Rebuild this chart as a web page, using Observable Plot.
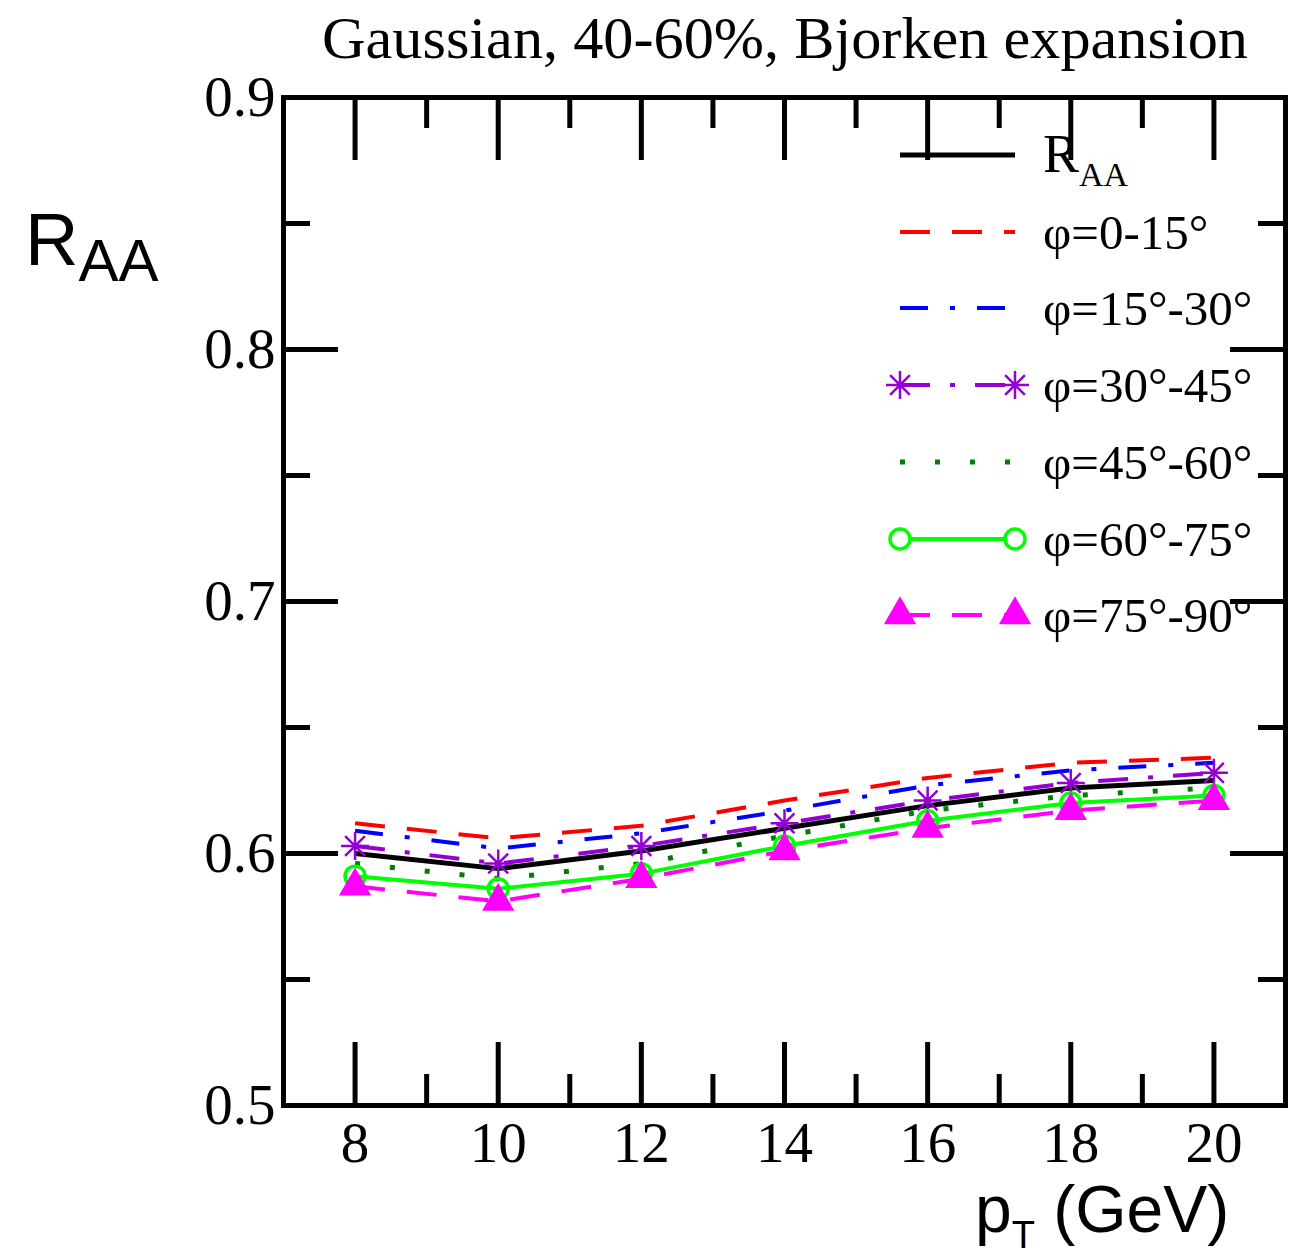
<!DOCTYPE html>
<html><head><meta charset="utf-8">
<script src="https://cdn.jsdelivr.net/npm/d3@7"></script>
<script src="https://cdn.jsdelivr.net/npm/@observablehq/plot@0.6"></script>
<style>
html,body{margin:0;padding:0;background:#fff;}
#wrap{position:relative;width:1296px;height:1257px;overflow:hidden;}
#wrap svg{position:absolute;left:0;top:0;}
</style></head><body><div id="wrap"></div>
<script>
// ---- data ----
const pT = [8, 10, 12, 14, 16, 18, 20];
const raa     = [0.600, 0.594, 0.601, 0.610, 0.619, 0.626, 0.629];
const phi0_15  = [0.612, 0.606, 0.611, 0.621, 0.630, 0.636, 0.638];
const phi15_30 = [0.609, 0.602, 0.608, 0.617, 0.627, 0.633, 0.636];
const phi30_45 = [0.603, 0.596, 0.603, 0.612, 0.621, 0.628, 0.632];
const phi45_60 = [0.596, 0.590, 0.596, 0.607, 0.617, 0.623, 0.626];
const phi60_75 = [0.591, 0.586, 0.592, 0.603, 0.613, 0.620, 0.623];
const phi75_90 = [0.587, 0.581, 0.590, 0.601, 0.610, 0.617, 0.621];
const seriesLabels = ["RAA", "φ=0-15°", "φ=15°-30°", "φ=30°-45°", "φ=45°-60°", "φ=60°-75°", "φ=75°-90°"];
const xMajor = [8, 10, 12, 14, 16, 18, 20];
const xMinor = [9, 11, 13, 15, 17, 19];
const yMajor = [0.5, 0.6, 0.7, 0.8, 0.9];
const yMinor = [0.55, 0.65, 0.75, 0.85];
const titleText = "Gaussian, 40-60%, Bjorken expansion";

// ---- styles ----
const star8 = {draw(ctx, size) { const r = Math.sqrt(size / Math.PI);
  for (let i = 0; i < 4; i++) { const a = i * Math.PI / 4, dx = r * Math.cos(a), dy = r * Math.sin(a);
    ctx.moveTo(-dx, -dy); ctx.lineTo(dx, dy); } }};
const styles = [
  {stroke: "#000000", width: 5, dash: null, marker: null},
  {stroke: "#ff0000", width: 4, dash: "30,22", marker: null},
  {stroke: "#0000ff", width: 4, dash: "28,22,5,22", marker: null},
  {stroke: "#9400d3", width: 4, dash: "30,20,5,20", marker: "star"},
  {stroke: "#008000", width: 5, dash: "5,30", marker: null},
  {stroke: "#00ff00", width: 4, dash: null, marker: "circle"},
  {stroke: "#ff00ff", width: 4, dash: "30,22", marker: "triangle"}
];
const allSeries = [raa, phi0_15, phi15_30, phi30_45, phi45_60, phi60_75, phi75_90];
const table = allSeries.map((vals, i) => pT.map((x, j) => ({pT: x, v: vals[j], s: seriesLabels[i]})));

const W = 1296, H = 1257, mL = 283, mR = 11, mT = 97, mB = 152;
const iw = W - mL - mR, ih = H - mT - mB;
const serif = "'Liberation Serif','Times New Roman',serif";
const sans = "'Liberation Sans',Arial,sans-serif";

const marks = [];
allSeries.forEach((vals, i) => {
  const st = styles[i];
  marks.push(Plot.line(table[i], {x: "pT", y: "v", stroke: st.stroke, strokeWidth: st.width,
    strokeDasharray: st.dash || undefined, strokeLinecap: "butt", strokeLinejoin: "miter"}));
});
allSeries.forEach((vals, i) => {
  const st = styles[i];
  if (st.marker === "star") marks.push(Plot.dot(table[i], {x: "pT", y: "v", symbol: star8, r: 14, stroke: st.stroke, fill: "none", strokeWidth: 2.5}));
  if (st.marker === "circle") marks.push(Plot.dot(table[i], {x: "pT", y: "v", symbol: "circle", r: 10, stroke: st.stroke, fill: "none", strokeWidth: 3.5}));
  if (st.marker === "triangle") marks.push(Plot.dot(table[i], {x: "pT", y: "v", symbol: "triangle", r: 12, fill: st.stroke, stroke: "none"}));
});

const chart = Plot.plot({
  width: W, height: H, marginLeft: mL, marginRight: mR, marginTop: mT, marginBottom: mB,
  style: {fontFamily: serif, background: "white", color: "black"},
  x: {domain: [7, 21]},
  y: {domain: [0.5, 0.9]},
  marks: [
    ...marks,
    Plot.ruleX(xMajor, {insetTop: ih - 63, stroke: "black", strokeWidth: 5}),
    Plot.ruleX(xMinor, {insetTop: ih - 31, stroke: "black", strokeWidth: 5}),
    Plot.ruleX(xMajor, {insetBottom: ih - 63, stroke: "black", strokeWidth: 5}),
    Plot.ruleX(xMinor, {insetBottom: ih - 31, stroke: "black", strokeWidth: 5}),
    Plot.ruleY(yMajor, {insetRight: iw - 55, stroke: "black", strokeWidth: 5}),
    Plot.ruleY(yMinor, {insetRight: iw - 27, stroke: "black", strokeWidth: 5}),
    Plot.ruleY(yMajor, {insetLeft: iw - 55, stroke: "black", strokeWidth: 5}),
    Plot.ruleY(yMinor, {insetLeft: iw - 27, stroke: "black", strokeWidth: 5}),
    Plot.frame({stroke: "black", strokeWidth: 5}),
    Plot.axisX({ticks: xMajor, tickSize: 0, tickPadding: 16, fontSize: 57, label: null, tickFormat: d => String(d)}),
    Plot.axisY({ticks: yMajor, tickSize: 0, tickPadding: 8, fontSize: 57, label: null, tickFormat: d3.format(".1f")})
  ]
});
document.getElementById("wrap").appendChild(chart);

// ---- overlay: title, axis labels, legend ----
const ov = d3.select("#wrap").append("svg").attr("width", W).attr("height", H)
  .style("pointer-events", "none");
ov.append("text").attr("x", 322).attr("y", 58)
  .attr("textLength", 926).attr("lengthAdjust", "spacingAndGlyphs")
  .style("font-family", serif).style("font-size", "60px").text(titleText);

const yl = ov.append("text").attr("x", 25).attr("y", 265).style("font-family", sans);
yl.append("tspan").style("font-size", "74px").text("R");
yl.append("tspan").style("font-size", "60px").attr("dy", 16).text("AA");

const xl = ov.append("text").attr("x", 975).attr("y", 1232).style("font-family", sans);
xl.append("tspan").style("font-size", "66px").text("p");
xl.append("tspan").style("font-size", "38px").attr("dy", 16).text("T");
xl.append("tspan").style("font-size", "66px").attr("dy", -16).text(" (GeV)");

const rowY = [155, 232, 308, 385, 462, 539, 615];
const lx1 = 900, lx2 = 1015, tx = 1043;
seriesLabels.forEach((lab, i) => {
  const st = styles[i], y = rowY[i];
  ov.append("line").attr("x1", lx1).attr("x2", lx2).attr("y1", y).attr("y2", y)
    .attr("stroke", st.stroke).attr("stroke-width", st.width)
    .attr("stroke-dasharray", st.dash || null);
  [lx1, lx2].forEach(mx => {
    if (st.marker === "star") ov.append("path").attr("d", d3.symbol(star8, Math.PI * 14 * 14)())
      .attr("transform", `translate(${mx},${y})`).attr("stroke", st.stroke).attr("stroke-width", 2.5).attr("fill", "none");
    if (st.marker === "circle") ov.append("path").attr("d", d3.symbol(d3.symbolCircle, Math.PI * 100)())
      .attr("transform", `translate(${mx},${y})`).attr("stroke", st.stroke).attr("stroke-width", 3.5).attr("fill", "white");
    if (st.marker === "triangle") ov.append("path").attr("d", d3.symbol(d3.symbolTriangle, Math.PI * 144)())
      .attr("transform", `translate(${mx},${y})`).attr("fill", st.stroke);
  });
  const t = ov.append("text").attr("x", tx).attr("y", y + 17).style("font-family", serif).style("font-size", "49px");
  if (lab === "RAA") {
    t.append("tspan").style("font-size", "54px").text("R");
    t.append("tspan").style("font-size", "34px").attr("dy", 14).text("AA");
  } else {
    t.text(lab);
  }
});
</script></body></html>
